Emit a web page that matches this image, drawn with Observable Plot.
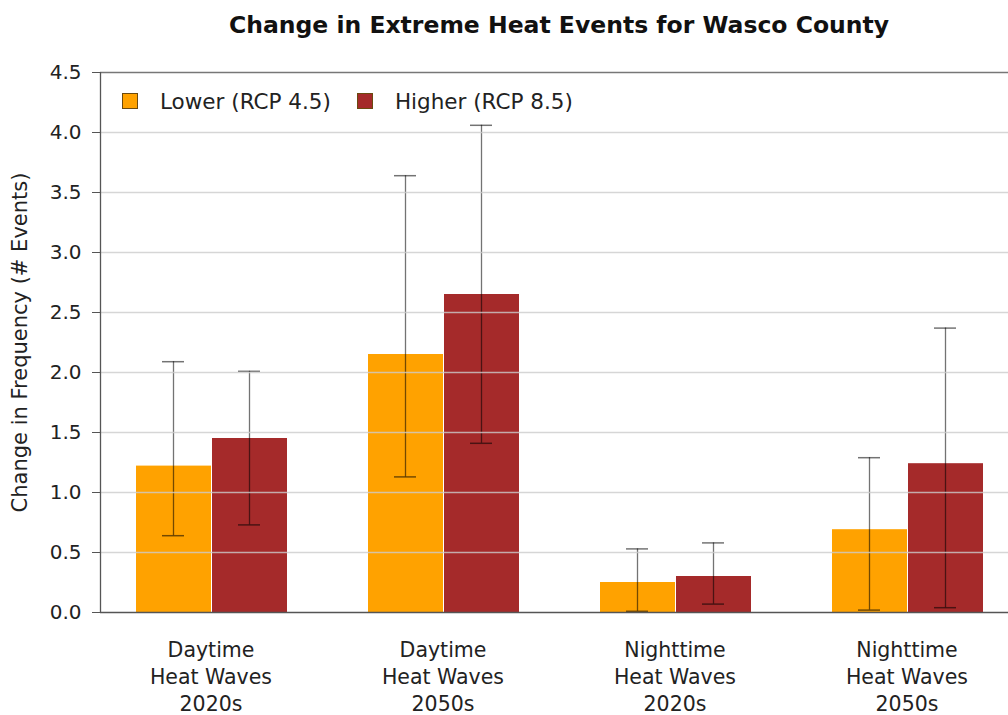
<!DOCTYPE html>
<html>
<head>
<meta charset="utf-8">
<script src="https://cdn.jsdelivr.net/npm/d3@7"></script>
<script src="https://cdn.jsdelivr.net/npm/@observablehq/plot@0.6"></script>
<style>
  body { margin: 0; background: #fff; font-family: "DejaVu Sans", "Liberation Sans", sans-serif; }
  #wrap { position: relative; width: 1008px; height: 715px; overflow: hidden; }
  #title { position: absolute; left: 110px; right: 0; top: 11px; text-align: center;
           font-weight: bold; font-size: 23.5px; color: #111; white-space: nowrap; }
  #chart, #overlay { position: absolute; left: 0; top: 50px; }
  #legend { position: absolute; left: 122px; top: 88px; height: 26px; display: flex; align-items: center;
            font-size: 21.5px; color: #222; white-space: nowrap; }
  .sw { width: 16px; height: 16px; border: 1px solid #6b4a10; box-sizing: border-box; margin-right: 22px; }
  .lab { margin-right: 26px; }
</style>
</head>
<body>
<div id="wrap">
  <div id="title">Change in Extreme Heat Events for Wasco County</div>
  <div id="chart"></div>
  <div id="overlay"></div>
  <div id="legend"></div>
</div>
<script>
const categories = ["Daytime Heat Waves 2020s", "Daytime Heat Waves 2050s", "Nighttime Heat Waves 2020s", "Nighttime Heat Waves 2050s"];
const categoryLabels = ["Daytime\nHeat Waves\n2020s", "Daytime\nHeat Waves\n2050s", "Nighttime\nHeat Waves\n2020s", "Nighttime\nHeat Waves\n2050s"];
const series = ["Lower (RCP 4.5)", "Higher (RCP 8.5)"];
const seriesColors = ["#FFA200", "#A52A2A"];
const lowerMean = [1.22, 2.15, 0.25, 0.69];
const lowerMin  = [0.64, 1.13, 0.01, 0.02];
const lowerMax  = [2.09, 3.64, 0.53, 1.29];
const higherMean = [1.45, 2.65, 0.30, 1.24];
const higherMin  = [0.73, 1.41, 0.07, 0.04];
const higherMax  = [2.01, 4.06, 0.58, 2.37];
const yTicks = [0, 0.5, 1, 1.5, 2, 2.5, 3, 3.5, 4, 4.5];
const yLabel = "Change in Frequency (# Events)";

const data = [];
categories.forEach((c, i) => {
  data.push({category: c, series: series[0], mean: lowerMean[i], lo: lowerMin[i], hi: lowerMax[i]});
  data.push({category: c, series: series[1], mean: higherMean[i], lo: higherMin[i], hi: higherMax[i]});
});

const common = {
  width: 1008,
  height: 665,
  marginLeft: 100,
  marginRight: 0,
  marginTop: 22,
  marginBottom: 103,
  style: {fontFamily: "'DejaVu Sans', 'Liberation Sans', sans-serif", color: "#222", background: "transparent", overflow: "visible"},
  y: {domain: [0, 4.5], axis: null}
};

// Bars and error bars, grouped by facet
const bars = Plot.plot({
  ...common,
  fx: {domain: categories, range: [98, 1020], paddingInner: 0.34, paddingOuter: 0.155, label: null},
  x: {domain: series, padding: 0, axis: null},
  color: {domain: series, range: seriesColors},
  marks: [
    Plot.barY(data, {fx: "category", x: "series", y: "mean", fill: "series", insetLeft: 1, insetRight: 0}),
    Plot.ruleX(data, {fx: "category", x: "series", y1: "lo", y2: "hi", stroke: "#000", strokeOpacity: 0.55, strokeWidth: 1.3}),
    Plot.tickY(data, {fx: "category", x: "series", y: "lo", stroke: "#000", strokeOpacity: 0.55, strokeWidth: 1.5, insetLeft: 27, insetRight: 27}),
    Plot.tickY(data, {fx: "category", x: "series", y: "hi", stroke: "#000", strokeOpacity: 0.55, strokeWidth: 1.5, insetLeft: 27, insetRight: 27}),
    Plot.axisFx({anchor: "bottom", tickSize: 0, tickPadding: 25, fontSize: 20.5, lineHeight: 1.33,
      tickFormat: (d) => categoryLabels[categories.indexOf(d)], label: null})
  ]
});
document.getElementById("chart").appendChild(bars);

// Grid, frame lines and y axis across the whole plot
const overlay = Plot.plot({
  ...common,
  x: {domain: [0, 1], axis: null},
  marks: [
    Plot.gridY(yTicks.slice(1, -1), {stroke: "#cccccc", strokeOpacity: 0.8, strokeWidth: 1.3}),
    Plot.ruleY([4.5], {stroke: "#777", strokeWidth: 1.5}),
    Plot.ruleY([0], {stroke: "#555", strokeWidth: 1.3}),
    Plot.ruleX([0], {y1: 0, y2: 4.5, stroke: "#555", strokeWidth: 1.3}),
    Plot.axisY(yTicks, {anchor: "left", tickFormat: d3.format(".1f"), tickSize: 8, tickPadding: 11,
      fontSize: 20, stroke: "#555", label: null}),
    Plot.text([yLabel], {frameAnchor: "left", textAnchor: "middle", dx: -80, rotate: -90, fontSize: 21, fill: "#222"})
  ]
});
document.getElementById("overlay").appendChild(overlay);

const legend = document.getElementById("legend");
series.forEach((s, i) => {
  const sw = document.createElement("div");
  sw.className = "sw";
  sw.style.background = seriesColors[i];
  const lab = document.createElement("span");
  lab.className = "lab";
  lab.textContent = s;
  legend.appendChild(sw);
  legend.appendChild(lab);
});
</script>
</body>
</html>
